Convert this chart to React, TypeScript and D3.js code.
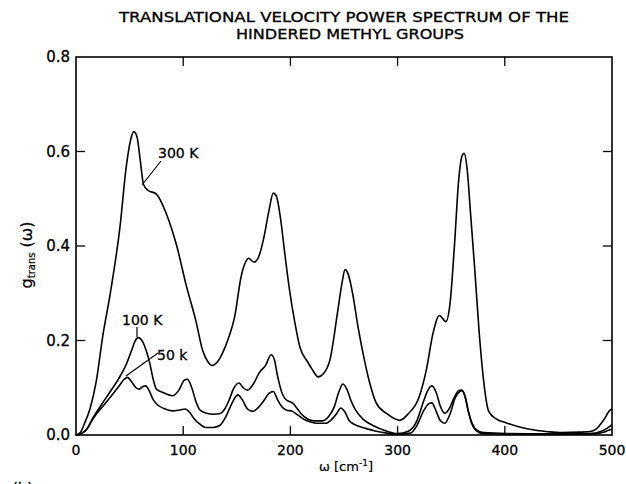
import React from "react";
import * as d3 from "d3";

const title1 = "TRANSLATIONAL VELOCITY POWER SPECTRUM OF THE";
const title2 = "HINDERED METHYL GROUPS";
const xTicks = [0, 100, 200, 300, 400, 500];
const yTicks = [0, 0.2, 0.4, 0.6, 0.8];

const k300: [number, number][] = [[0,0],[4,0.005],[8,0.025],[13,0.055],[19,0.115],[25,0.21],[32,0.30],[41,0.44],[47,0.57],[51,0.625],[54,0.642],[57,0.63],[60,0.58],[63,0.53],[67,0.518],[75,0.51],[84,0.47],[94,0.40],[103,0.315],[112,0.24],[118,0.18],[123,0.155],[127,0.147],[132,0.155],[137,0.175],[143,0.21],[148,0.25],[154,0.335],[158,0.365],[161,0.374],[166,0.366],[170,0.375],[175,0.415],[180,0.475],[184,0.512],[187,0.505],[191,0.455],[195,0.38],[199,0.31],[204,0.24],[209,0.185],[216,0.155],[220,0.14],[226,0.123],[231,0.13],[237,0.16],[244,0.26],[248,0.32],[251,0.35],[254,0.34],[258,0.30],[263,0.23],[268,0.17],[274,0.11],[280,0.068],[290,0.045],[302,0.031],[310,0.045],[320,0.08],[327,0.14],[333,0.215],[339,0.253],[345,0.24],[349,0.28],[353,0.40],[357,0.54],[360,0.59],[362,0.596],[365,0.56],[368,0.47],[372,0.35],[376,0.22],[380,0.12],[385,0.05],[392,0.034],[401,0.026],[412,0.018],[423,0.012],[440,0.007],[453,0.005],[470,0.006],[481,0.008],[486,0.014],[490,0.025],[494,0.038],[497,0.05],[500,0.055]];

const k100: [number, number][] = [[0,0],[5,0.003],[10,0.012],[16,0.037],[24,0.065],[32,0.092],[40,0.12],[47,0.15],[52,0.18],[55,0.198],[58,0.206],[62,0.198],[66,0.175],[69,0.15],[72,0.118],[75,0.097],[81,0.09],[90,0.083],[96,0.095],[101,0.116],[104,0.118],[108,0.1],[112,0.07],[116,0.052],[122,0.046],[128,0.044],[134,0.045],[139,0.056],[143,0.075],[147,0.098],[152,0.11],[156,0.1],[160,0.095],[166,0.11],[171,0.132],[177,0.148],[182,0.17],[185,0.16],[188,0.125],[192,0.09],[195,0.077],[199,0.071],[202,0.068],[206,0.057],[210,0.045],[216,0.034],[222,0.03],[230,0.03],[236,0.04],[241,0.06],[245,0.09],[249,0.108],[253,0.095],[257,0.07],[261,0.052],[268,0.033],[277,0.02],[290,0.008],[300,0.003],[310,0.008],[318,0.03],[324,0.07],[329,0.098],[332,0.104],[336,0.09],[340,0.06],[344,0.046],[348,0.055],[353,0.08],[357,0.094],[360,0.095],[363,0.08],[366,0.05],[369,0.028],[373,0.012],[380,0.005],[400,0.003],[450,0.002],[480,0.003],[490,0.008],[496,0.015],[500,0.022]];

const k50: [number, number][] = [[0,0],[5,0.003],[10,0.012],[16,0.035],[24,0.058],[32,0.08],[40,0.103],[45,0.118],[48,0.122],[52,0.112],[56,0.1],[59,0.097],[62,0.102],[65,0.104],[68,0.095],[72,0.075],[76,0.064],[82,0.056],[90,0.051],[97,0.053],[102,0.055],[106,0.048],[110,0.035],[115,0.024],[121,0.016],[128,0.016],[134,0.02],[140,0.04],[145,0.065],[151,0.085],[155,0.075],[160,0.055],[165,0.05],[170,0.058],[175,0.072],[180,0.088],[184,0.092],[188,0.075],[192,0.06],[196,0.053],[202,0.05],[207,0.042],[212,0.034],[218,0.028],[224,0.025],[233,0.025],[238,0.032],[243,0.045],[247,0.057],[251,0.048],[255,0.03],[262,0.02],[270,0.014],[280,0.008],[290,0.004],[300,0.002],[312,0.004],[318,0.02],[324,0.05],[329,0.066],[332,0.068],[336,0.05],[340,0.03],[344,0.025],[349,0.045],[354,0.08],[358,0.092],[360,0.094],[363,0.082],[366,0.05],[369,0.025],[373,0.01],[380,0.003],[450,0.002],[485,0.003],[492,0.006],[497,0.01],[500,0.012]];

const series = [k300, k100, k50];

export default function App() {
  const left = 76, right = 612, top = 57, bottom = 435;
  const x = d3.scaleLinear().domain([0, 500]).range([left, right]);
  const y = d3.scaleLinear().domain([0, 0.8]).range([bottom, top]);
  const line = d3.line<[number, number]>().x(d => x(d[0])).y(d => y(d[1])).curve(d3.curveMonotoneX);
  const font = "'DejaVu Sans', sans-serif";
  const tl = 9;
  return (
    <svg width={626} height={484} style={{ position: "absolute", left: 0, top: 0, background: "#fff" }} fontFamily={font}>
      <text x={344} y={22} fontSize={13.5} textAnchor="middle" textLength={450} lengthAdjust="spacingAndGlyphs" stroke="#000" strokeWidth={0.3}>{title1}</text>
      <text x={350} y={39} fontSize={13.5} textAnchor="middle" textLength={228} lengthAdjust="spacingAndGlyphs" stroke="#000" strokeWidth={0.3}>{title2}</text>
      <rect x={left} y={top} width={right - left} height={bottom - top} fill="none" stroke="#000" strokeWidth={1.6} />
      {xTicks.map(t => (
        <g key={"x" + t}>
          {t > 0 && t < 500 && <line x1={x(t)} x2={x(t)} y1={bottom} y2={bottom - tl} stroke="#000" strokeWidth={1.3} />}
          {t > 0 && t < 500 && <line x1={x(t)} x2={x(t)} y1={top} y2={top + tl} stroke="#000" strokeWidth={1.3} />}
          <text x={x(t)} y={bottom + 20} fontSize={14} textAnchor="middle" stroke="#000" strokeWidth={0.3}>{t}</text>
        </g>
      ))}
      {yTicks.map(t => (
        <g key={"y" + t}>
          {t > 0 && t < 0.8 && <line x1={left} x2={left + tl} y1={y(t)} y2={y(t)} stroke="#000" strokeWidth={1.3} />}
          {t > 0 && t < 0.8 && <line x1={right} x2={right - tl} y1={y(t)} y2={y(t)} stroke="#000" strokeWidth={1.3} />}
          <text x={left - 6} y={y(t) + 5} fontSize={15} textAnchor="end" stroke="#000" strokeWidth={0.3}>{t.toFixed(1)}</text>
        </g>
      ))}
      {series.map((s, i) => (
        <path key={i} d={line(s) || ""} fill="none" stroke="#000" strokeWidth={1.6} />
      ))}
      <text x={158} y={158} fontSize={14} stroke="#000" strokeWidth={0.3}>300 K</text>
      <line x1={161} y1={161} x2={142} y2={185} stroke="#000" strokeWidth={1.2} />
      <text x={122} y={325} fontSize={14} stroke="#000" strokeWidth={0.3}>100 K</text>
      <line x1={137} y1={327} x2={137} y2={337} stroke="#000" strokeWidth={1.2} />
      <text x={157} y={360} fontSize={14} stroke="#000" strokeWidth={0.3}>50 k</text>
      <line x1={158} y1={353} x2={126} y2={376} stroke="#000" strokeWidth={1.2} />
      <g transform="translate(32,255) rotate(-90)">
        <text x={0} y={0} fontSize={16} textAnchor="middle" stroke="#000" strokeWidth={0.2}>
          g<tspan fontSize={10} dy={3}>trans</tspan><tspan dy={-3}> (ω)</tspan>
        </text>
      </g>
      <text x={346} y={471} fontSize={13} textAnchor="middle" stroke="#000" strokeWidth={0.2}>
        ω [cm<tspan fontSize={9} dy={-5}>-1</tspan><tspan dy={5}>]</tspan>
      </text>
      <text x={12} y={494} fontSize={15} stroke="#000" strokeWidth={0.3}>(b)</text>
    </svg>
  );
}
